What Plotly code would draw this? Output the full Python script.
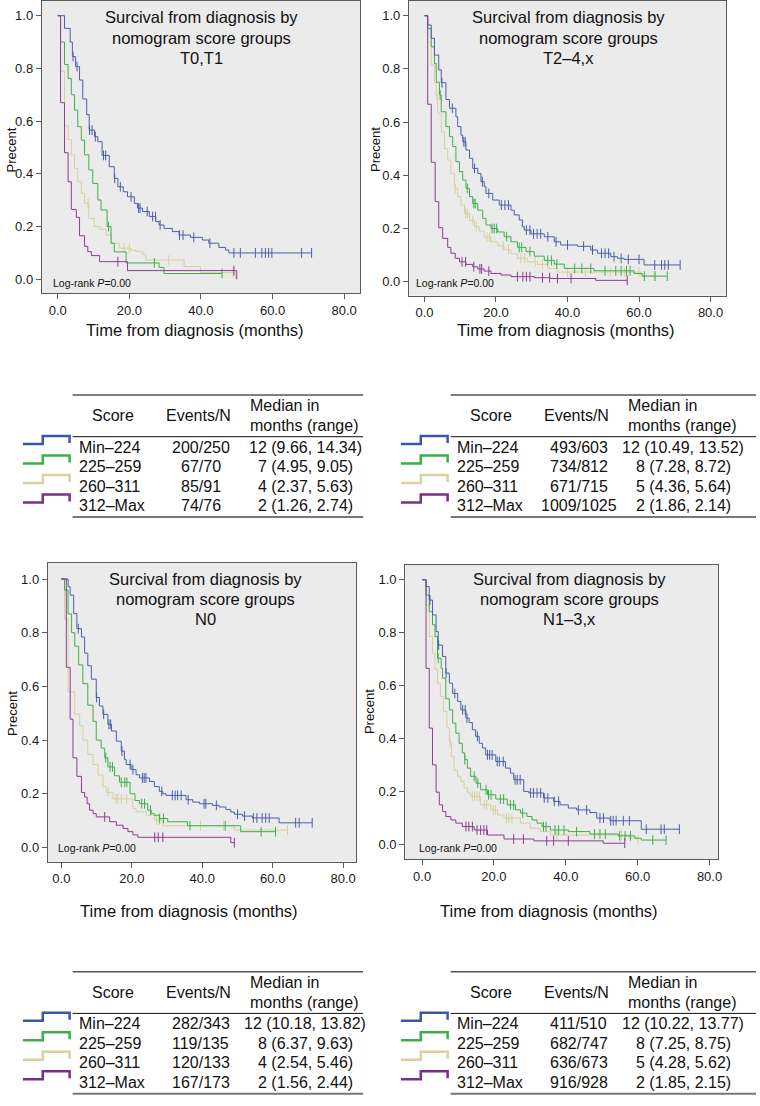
import plotly.graph_objects as go
from bisect import bisect_right

W, H = 760, 1106
FONT = "Liberation Sans, Arial, Helvetica, sans-serif"

# ---------------- data ----------------
SCORES = ["Min\u2013224", "225\u2013259", "260\u2013311", "312\u2013Max"]
GROUP_KEYS = ["B", "G", "Y", "P"]
LINE_COLORS = {"B": "#4a5fab", "G": "#3fae4a", "Y": "#d6d09c", "P": "#8a3f8e"}
ICON_COLORS = {"B": "#3d56a6", "G": "#3daf4a", "Y": "#d7d29e", "P": "#7a2f86"}

# --- T0,T1 ---
T01_B_T = [1.9, 3.5, 4.1, 5.0, 6.1, 7.0, 8.1, 8.8, 10.3, 11.2, 12.4, 14.4, 15.8, 16.8, 18.3, 19.5, 21.4, 22.3,
           23.7, 25.6, 27.4, 28.3, 29.7, 32.0, 33.9, 37.1, 40.4, 42.2, 45.0, 46.9, 47.8]
T01_B_S = [0.952, 0.90, 0.845, 0.807, 0.756, 0.684, 0.625, 0.566, 0.541, 0.522, 0.47, 0.427, 0.383, 0.351, 0.332,
           0.313, 0.288, 0.27, 0.257, 0.238, 0.219, 0.206, 0.193, 0.181, 0.168, 0.159, 0.149, 0.137, 0.121, 0.111, 0.10]
T01_B_C = [4.3, 5.4, 8.9, 9.6, 10.5, 12.8, 13.4, 15.9, 17.5, 20.5, 22.6, 23.0, 25.0, 26.5, 27.3, 28.6, 34.0, 35.0,
           38.0, 42.5, 49.2, 51.0, 55.2, 57.0, 58.0, 58.9, 59.8, 68.1, 70.9]
T01_G_T = [0.8, 1.9, 2.9, 3.8, 4.7, 5.6, 6.6, 7.5, 8.7, 9.8, 11.2, 12.1, 13.8, 14.9, 15.8, 19.1, 28.3, 29.7]
T01_G_S = [0.90, 0.815, 0.762, 0.70, 0.642, 0.579, 0.528, 0.472, 0.415, 0.364, 0.301, 0.263, 0.20, 0.137, 0.104,
           0.062, 0.045, 0.022]
T01_G_C = [14.2, 27.0, 45.9]
T01_Y_T = [0.8, 1.9, 2.9, 3.8, 4.7, 5.6, 6.6, 7.5, 8.7, 10.2, 11.7, 13.5, 14.9, 17.2, 20.5, 21.9, 23.7, 24.6, 35.3,
           39.9, 49.6]
T01_Y_S = [0.79, 0.582, 0.53, 0.472, 0.421, 0.37, 0.326, 0.288, 0.231, 0.20, 0.19, 0.168, 0.137, 0.118, 0.11, 0.105,
           0.095, 0.073, 0.048, 0.025, 0.0]
T01_Y_C = [8.5, 18.5, 20.0, 31.0, 49.0]
T01_P_T = [0.8, 1.9, 2.9, 3.8, 5.2, 6.1, 7.5, 8.4, 9.4, 11.7, 19.5, 50.0]
T01_P_S = [0.67, 0.48, 0.37, 0.265, 0.235, 0.165, 0.125, 0.105, 0.09, 0.067, 0.033, 0.0]
T01_P_C = [16.8, 49.2]

# --- T2-4,x ---
T24_B_T = [0.9, 1.9, 2.8, 4.0, 4.7, 6.0, 7.0, 8.8, 9.3, 10.2, 10.7, 11.6, 12.6, 13.5, 14.9, 15.8, 16.7, 17.2, 19.1,
           20.9, 24.2, 25.1, 26.5, 27.4, 27.9, 29.8, 33.5, 36.3, 38.1, 42.8, 46.5, 48.4, 52.1, 54.0, 55.8, 61.4]
T24_B_S = [0.965, 0.915, 0.852, 0.796, 0.748, 0.685, 0.652, 0.62, 0.583, 0.551, 0.526, 0.495, 0.464, 0.426, 0.407,
           0.376, 0.357, 0.332, 0.307, 0.288, 0.269, 0.251, 0.232, 0.207, 0.194, 0.18, 0.169, 0.15, 0.138, 0.133,
           0.119, 0.107, 0.094, 0.088, 0.084, 0.063]
T24_B_C = [4.9, 7.8, 11.0, 11.4, 14.0, 16.2, 18.0, 21.5, 22.5, 23.5, 28.5, 29.5, 30.5, 31.5, 32.5, 34.5, 36.8, 40.0,
           44.5, 47.0, 49.5, 50.5, 51.5, 53.0, 55.0, 57.0, 60.0, 64.4, 66.3, 67.2, 68.2, 71.5]
T24_G_T = [0.9, 1.9, 2.8, 3.3, 4.2, 4.7, 6.0, 7.0, 7.9, 8.8, 9.8, 10.7, 11.6, 12.6, 13.5, 14.9, 16.3, 17.2, 18.6,
           20.5, 22.3, 24.2, 26.0, 28.4, 30.7, 33.5, 36.3, 39.1, 47.4, 58.6, 60.9]
T24_G_S = [0.952, 0.883, 0.82, 0.75, 0.702, 0.639, 0.583, 0.545, 0.508, 0.451, 0.414, 0.382, 0.351, 0.32, 0.294,
           0.269, 0.238, 0.213, 0.2, 0.187, 0.169, 0.15, 0.129, 0.113, 0.096, 0.08, 0.066, 0.05, 0.041, 0.031, 0.021]
T24_G_C = [4.4, 12.0, 13.8, 14.2, 18.9, 19.5, 20.2, 23.0, 26.5, 27.2, 29.5, 34.5, 35.5, 37.0, 42.0, 44.0, 46.5,
           50.5, 53.5, 55.0, 56.5, 57.5, 61.5, 64.5, 67.9]
T24_Y_T = [0.9, 1.9, 2.8, 3.3, 3.7, 4.7, 5.6, 6.5, 7.4, 8.4, 9.3, 10.2, 11.2, 12.6, 14.0, 15.3, 16.7, 18.6, 20.5,
           22.3, 24.2, 26.0, 28.8, 31.6, 34.4, 37.2, 60.5]
T24_Y_S = [0.902, 0.815, 0.75, 0.70, 0.633, 0.564, 0.50, 0.457, 0.407, 0.351, 0.32, 0.288, 0.257, 0.23, 0.207, 0.19,
           0.167, 0.15, 0.135, 0.12, 0.105, 0.088, 0.075, 0.065, 0.05, 0.036, 0.022]
T24_Y_C = [3.5, 8.6, 11.5, 12.0, 13.5, 14.5, 17.5, 18.2, 22.0, 23.5, 27.0, 28.0, 31.0, 33.0, 40.0, 45.0, 52.0, 56.0,
           60.0, 64.2]
T24_P_T = [0.9, 1.9, 3.0, 4.0, 5.1, 6.5, 7.4, 8.6, 9.8, 11.6, 13.5, 14.9, 16.7, 18.6, 21.4, 24.2, 30.7, 35.3, 47.9]
T24_P_S = [0.667, 0.449, 0.301, 0.203, 0.163, 0.129, 0.107, 0.088, 0.075, 0.065, 0.056, 0.048, 0.04, 0.031, 0.025,
           0.019, 0.015, 0.012, 0.005]
T24_P_C = [10.5, 11.5, 13.8, 15.5, 16.0, 18.0, 26.0, 27.5, 28.5, 29.5, 33.0, 35.0, 37.2, 41.0, 56.7]

# --- N0 ---
N0_B_T = [1.9, 2.5, 3.5, 4.4, 5.7, 6.6, 7.5, 8.5, 9.9, 10.8, 11.8, 13.2, 14.2, 15.6, 17.0, 17.9, 18.4, 19.8, 21.2,
          22.2, 25.0, 26.4, 27.8, 28.8, 29.7, 35.4, 37.3, 39.2, 42.9, 44.8, 46.7, 48.1, 49.1, 51.4, 54.2, 61.8]
N0_B_S = [0.971, 0.94, 0.871, 0.815, 0.784, 0.724, 0.677, 0.627, 0.559, 0.527, 0.496, 0.459, 0.434, 0.396, 0.359,
          0.328, 0.309, 0.29, 0.271, 0.259, 0.246, 0.227, 0.209, 0.2, 0.194, 0.178, 0.169, 0.163, 0.157, 0.151, 0.141,
          0.132, 0.124, 0.117, 0.11, 0.092]
N0_B_C = [4.8, 10.0, 12.0, 13.5, 14.0, 17.2, 19.5, 20.3, 23.0, 23.5, 24.0, 28.5, 31.5, 32.3, 33.0, 34.0, 36.0, 40.5,
          41.0, 44.0, 50.0, 52.0, 54.5, 55.5, 57.0, 58.0, 59.0, 66.5, 67.5, 71.2]
N0_G_T = [0.9, 1.9, 2.9, 3.8, 4.9, 6.1, 7.5, 9.0, 9.9, 11.3, 12.3, 13.2, 15.1, 16.5, 19.5, 20.9, 22.2, 24.5, 25.5,
          26.4, 27.8, 30.2, 35.8, 50.9]
N0_G_S = [0.959, 0.87, 0.80, 0.75, 0.68, 0.61, 0.53, 0.47, 0.40, 0.37, 0.334, 0.30, 0.267, 0.243, 0.20, 0.175, 0.163,
          0.139, 0.126, 0.12, 0.108, 0.096, 0.081, 0.059]
N0_G_C = [12.6, 13.8, 14.5, 17.0, 18.0, 18.6, 22.8, 23.6, 25.3, 27.9, 29.0, 36.5, 46.5, 56.7, 60.8]
N0_Y_T = [0.9, 1.9, 3.8, 5.2, 6.1, 7.5, 9.0, 10.4, 11.8, 12.7, 14.6, 20.3, 21.2, 24.1, 26.4, 28.8, 49.1]
N0_Y_S = [0.852, 0.58, 0.496, 0.4525, 0.40, 0.346, 0.309, 0.27, 0.2275, 0.206, 0.181, 0.145, 0.133, 0.12, 0.102,
          0.081, 0.065]
N0_Y_C = [13.3, 15.5, 16.0, 17.0, 18.5, 27.0, 27.8, 39.5, 46.0, 64.2]
N0_P_T = [1.4, 2.5, 3.3, 4.4, 5.7, 6.6, 7.3, 8.0, 9.0, 9.9, 13.7, 15.6, 17.5, 18.9, 20.3, 21.7, 48.1]
N0_P_S = [0.671, 0.478, 0.334, 0.265, 0.205, 0.188, 0.163, 0.139, 0.126, 0.114, 0.096, 0.083, 0.071, 0.059, 0.047,
          0.038, 0.018]
N0_P_C = [12.3, 26.5, 27.5, 28.8, 49.1]

# --- N1-3,x ---
N13_B_T = [1.1, 2.0, 2.9, 3.9, 4.5, 5.7, 6.6, 7.6, 8.5, 9.9, 10.8, 12.2, 13.1, 14.0, 14.9, 15.9, 16.8, 17.7, 20.5,
           23.2, 24.6, 25.5, 28.3, 29.7, 33.8, 36.6, 38.4, 40.7, 43.0, 46.7, 48.6, 52.3, 61.0]
N13_B_S = [0.974, 0.923, 0.867, 0.804, 0.753, 0.71, 0.647, 0.609, 0.57, 0.54, 0.508, 0.477, 0.46, 0.433, 0.408,
           0.382, 0.364, 0.338, 0.313, 0.288, 0.269, 0.244, 0.2, 0.194, 0.175, 0.162, 0.149, 0.137, 0.13, 0.12, 0.099,
           0.089, 0.057]
N13_B_C = [2.2, 4.6, 6.7, 9.1, 11.3, 12.0, 12.5, 15.4, 18.2, 18.8, 19.5, 20.9, 21.5, 22.6, 25.9, 26.5, 27.3, 30.2,
           31.0, 32.0, 33.0, 34.0, 35.0, 36.8, 38.0, 43.5, 45.8, 49.5, 50.5, 52.5, 53.2, 54.0, 56.0, 57.7, 62.4, 66.5,
           67.4, 71.6]
N13_G_T = [1.1, 2.0, 2.9, 3.6, 4.3, 5.3, 5.7, 6.6, 7.6, 8.5, 9.4, 10.3, 11.2, 11.9, 12.6, 13.5, 15.0, 16.3, 18.2,
           20.5, 23.7, 26.0, 27.4, 29.2, 30.6, 32.0, 33.4, 35.7, 40.7, 46.7, 54.6, 59.2, 61.0]
N13_G_S = [0.942, 0.879, 0.83, 0.785, 0.703, 0.665, 0.628, 0.55, 0.508, 0.458, 0.42, 0.382, 0.345, 0.32, 0.288,
           0.257, 0.231, 0.206, 0.187, 0.171, 0.149, 0.13, 0.118, 0.105, 0.092, 0.08, 0.067, 0.054, 0.048, 0.039,
           0.032, 0.023, 0.016]
N13_G_C = [4.5, 11.9, 14.5, 15.5, 17.8, 18.5, 19.2, 21.8, 22.7, 24.6, 25.5, 28.0, 33.8, 34.5, 37.0, 38.0, 39.5,
           43.0, 48.0, 49.5, 51.0, 55.0, 56.5, 58.0, 64.2, 67.9]
N13_Y_T = [1.1, 2.0, 2.9, 3.6, 4.3, 5.1, 6.0, 6.9, 7.6, 8.2, 8.9, 9.9, 10.8, 11.7, 12.6, 13.5, 16.3, 19.1, 21.0,
           22.8, 27.4, 30.1, 32.9, 35.7, 57.8, 60.1]
N13_Y_S = [0.904, 0.785, 0.72, 0.662, 0.609, 0.558, 0.502, 0.44, 0.385, 0.332, 0.28, 0.257, 0.238, 0.213, 0.194,
           0.181, 0.149, 0.13, 0.111, 0.099, 0.08, 0.061, 0.048, 0.035, 0.023, 0.016]
N13_Y_C = [7.8, 14.0, 14.6, 15.3, 16.0, 17.3, 18.0, 19.8, 20.4, 23.5, 24.2, 25.0, 37.5, 48.0, 55.5, 60.1]
N13_P_T = [1.1, 2.0, 2.9, 3.9, 4.8, 5.7, 6.6, 8.0, 9.4, 11.2, 14.5, 18.2, 22.8, 31.1, 50.4]
N13_P_S = [0.665, 0.439, 0.30, 0.197, 0.149, 0.124, 0.105, 0.092, 0.08, 0.067, 0.054, 0.035, 0.02, 0.013, 0.004]
N13_P_C = [12.2, 13.0, 14.0, 15.3, 16.3, 17.2, 18.0, 25.5, 28.2, 34.7, 36.6, 40.7, 56.4]

# table columns
T01_EVENTS = ["200/250", "67/70", "85/91", "74/76"]
T01_MEDIAN = ["12 (9.66, 14.34)", "7 (4.95, 9.05)", "4 (2.37, 5.63)", "2 (1.26, 2.74)"]
T24_EVENTS = ["493/603", "734/812", "671/715", "1009/1025"]
T24_MEDIAN = ["12 (10.49, 13.52)", "8 (7.28, 8.72)", "5 (4.36, 5.64)", "2 (1.86, 2.14)"]
N0_EVENTS = ["282/343", "119/135", "120/133", "167/173"]
N0_MEDIAN = ["12 (10.18, 13.82)", "8 (6.37, 9.63)", "4 (2.54, 5.46)", "2 (1.56, 2.44)"]
N13_EVENTS = ["411/510", "682/747", "636/673", "916/928"]
N13_MEDIAN = ["12 (10.22, 13.77)", "8 (7.25, 8.75)", "5 (4.28, 5.62)", "2 (1.85, 2.15)"]

X_TICKS = [0, 20, 40, 60, 80]
Y_TICKS = [0.0, 0.2, 0.4, 0.6, 0.8, 1.0]

CURVES = {
    "T01": {"B": (T01_B_T, T01_B_S, T01_B_C), "G": (T01_G_T, T01_G_S, T01_G_C),
            "Y": (T01_Y_T, T01_Y_S, T01_Y_C), "P": (T01_P_T, T01_P_S, T01_P_C)},
    "T24": {"B": (T24_B_T, T24_B_S, T24_B_C), "G": (T24_G_T, T24_G_S, T24_G_C),
            "Y": (T24_Y_T, T24_Y_S, T24_Y_C), "P": (T24_P_T, T24_P_S, T24_P_C)},
    "N0": {"B": (N0_B_T, N0_B_S, N0_B_C), "G": (N0_G_T, N0_G_S, N0_G_C),
           "Y": (N0_Y_T, N0_Y_S, N0_Y_C), "P": (N0_P_T, N0_P_S, N0_P_C)},
    "N13": {"B": (N13_B_T, N13_B_S, N13_B_C), "G": (N13_G_T, N13_G_S, N13_G_C),
            "Y": (N13_Y_T, N13_Y_S, N13_Y_C), "P": (N13_P_T, N13_P_S, N13_P_C)},
}
TABLES = {"T01": (T01_EVENTS, T01_MEDIAN), "T24": (T24_EVENTS, T24_MEDIAN),
          "N0": (N0_EVENTS, N0_MEDIAN), "N13": (N13_EVENTS, N13_MEDIAN)}

# ---------------- layout geometry (pixels) ----------------
PANELS = [
    dict(key="T01", label="T0,T1", box=(42, 1, 362, 293), x0=58, x80=346, y0=279.3, y1=15.7,
         title_x=203, title_y=(17, 37.5, 58), lr=(51, 283), ytitle=(11.5, 150), xtitle=(196, 330),
         table=(73, 365, 395)),
    dict(key="T24", label="T2\u20134,x", box=(411, 1, 730, 295.7), x0=426.7, x80=714.3, y0=281.7, y1=15.7,
         title_x=571.7, title_y=(17, 37.5, 58), lr=(416, 282.7), ytitle=(377, 150), xtitle=(569, 330),
         table=(453, 760, 395)),
    dict(key="N0", label="N0", box=(48, 563, 358, 861.7), x0=61.7, x80=345, y0=847.5, y1=579,
         title_x=206.7, title_y=(579, 599, 619), lr=(56, 848.3), ytitle=(12, 713), xtitle=(190, 911),
         table=(73, 365, 971.7)),
    dict(key="N13", label="N1\u20133,x", box=(407.3, 565, 722.3, 859), x0=424.3, x80=713.3, y0=844.3, y1=579.7,
         title_x=572.3, title_y=(579, 599, 619), lr=(419, 848.3), ytitle=(371, 712), xtitle=(552, 911),
         table=(453, 760, 971.7)),
]


def px(x):
    return x / W


def py(y):
    return 1 - y / H


def step_xy(T, S, C):
    xs = [0.0] + list(T)
    ys = [1.0] + list(S)
    end = max(C) if C else T[-1]
    if end > T[-1]:
        xs.append(end)
        ys.append(S[-1])
    return xs, ys


def surv_at(T, S, t):
    i = bisect_right(T, t)
    return 1.0 if i == 0 else S[i - 1]


fig = go.Figure()
annotations = []
shapes = []
layout_axes = {}

for idx, p in enumerate(PANELS):
    n = "" if idx == 0 else str(idx + 1)
    xa, ya = "x" + n, "y" + n
    l, t, r, b = p["box"]
    kx = (p["x80"] - p["x0"]) / 80.0
    ky = p["y0"] - p["y1"]
    xr = [(l - p["x0"]) / kx, (r - p["x0"]) / kx]
    yr = [(p["y0"] - b) / ky, (p["y0"] - t) / ky]
    common = dict(showline=True, mirror=True, linecolor="#5a5a5a", linewidth=1, showgrid=False, zeroline=False,
                  ticks="outside", ticklen=5, tickwidth=1, tickcolor="#5a5a5a",
                  tickfont=dict(family=FONT, size=13, color="#1a1a1a"), tickformat=".1f", fixedrange=True)
    layout_axes["xaxis" + n] = dict(domain=[px(l), px(r)], range=xr, anchor=ya, tickmode="array",
                                    tickvals=X_TICKS, **common)
    layout_axes["yaxis" + n] = dict(domain=[py(b), py(t)], range=yr, anchor=xa, tickmode="array",
                                    tickvals=Y_TICKS, **common)

    # curves
    for g in ["Y", "G", "B", "P"]:
        T, S, C = CURVES[p["key"]][g]
        xs, ys = step_xy(T, S, C)
        col = LINE_COLORS[g]
        fig.add_trace(go.Scatter(x=xs, y=ys, mode="lines", line=dict(color=col, width=1, shape="hv"),
                                 xaxis=xa, yaxis=ya, showlegend=False, hoverinfo="skip"))
        fig.add_trace(go.Scatter(x=C, y=[surv_at(T, S, c) for c in C], mode="markers",
                                 marker=dict(symbol="line-ns-open", size=7, color=col,
                                             line=dict(color=col, width=1)),
                                 xaxis=xa, yaxis=ya, showlegend=False, hoverinfo="skip"))

    # title lines
    for line_txt, yy in zip(["Surcival from diagnosis by", "nomogram score groups", p["label"]], p["title_y"]):
        annotations.append(dict(text=line_txt, x=px(p["title_x"]), y=py(yy), xref="paper", yref="paper",
                                xanchor="center", yanchor="middle", showarrow=False,
                                font=dict(family=FONT, size=16.5, color="#111")))
    annotations.append(dict(text="Log-rank <i>P</i>=0.00", x=px(p["lr"][0]), y=py(p["lr"][1]), xref="paper",
                            yref="paper", xanchor="left", yanchor="middle", showarrow=False,
                            font=dict(family=FONT, size=10.5, color="#111")))
    annotations.append(dict(text="Precent", x=px(p["ytitle"][0]), y=py(p["ytitle"][1]), xref="paper",
                            yref="paper", xanchor="center", yanchor="middle", showarrow=False, textangle=-90,
                            font=dict(family=FONT, size=13, color="#111")))
    annotations.append(dict(text="Time from diagnosis (months)", x=px(p["xtitle"][0]), y=py(p["xtitle"][1]),
                            xref="paper", yref="paper", xanchor="center", yanchor="middle", showarrow=False,
                            font=dict(family=FONT, size=16.5, color="#111")))

    # table
    x0, x1, yt = p["table"]
    events, medians = TABLES[p["key"]]
    tf = dict(family=FONT, size=16, color="#111")
    shapes.append(dict(type="line", xref="paper", yref="paper", x0=px(x0), x1=px(x1), y0=py(yt), y1=py(yt),
                       line=dict(color="#555", width=1.5)))
    shapes.append(dict(type="line", xref="paper", yref="paper", x0=px(x0), x1=px(x1), y0=py(yt + 41.7),
                       y1=py(yt + 41.7), line=dict(color="#111", width=1)))
    shapes.append(dict(type="line", xref="paper", yref="paper", x0=px(x0), x1=px(x1), y0=py(yt + 122),
                       y1=py(yt + 122), line=dict(color="#777", width=2)))
    annotations.append(dict(text="Score", x=px(x0 + 41), y=py(yt + 21), xref="paper", yref="paper",
                            xanchor="center", yanchor="middle", showarrow=False, font=tf))
    annotations.append(dict(text="Events/N", x=px(x0 + 127), y=py(yt + 21), xref="paper", yref="paper",
                            xanchor="center", yanchor="middle", showarrow=False, font=tf))
    annotations.append(dict(text="Median in", x=px(x0 + 176), y=py(yt + 11), xref="paper", yref="paper",
                            xanchor="left", yanchor="middle", showarrow=False, font=tf))
    annotations.append(dict(text="months (range)", x=px(x0 + 176), y=py(yt + 30.5), xref="paper", yref="paper",
                            xanchor="left", yanchor="middle", showarrow=False, font=tf))
    for i, g in enumerate(GROUP_KEYS):
        ry = yt + 52 + 19.5 * i
        annotations.append(dict(text=SCORES[i], x=px(x0 + 4.5), y=py(ry), xref="paper", yref="paper",
                                xanchor="left", yanchor="middle", showarrow=False, font=tf))
        annotations.append(dict(text=events[i], x=px(x0 + 129), y=py(ry), xref="paper", yref="paper",
                                xanchor="center", yanchor="middle", showarrow=False, font=tf))
        annotations.append(dict(text=medians[i], x=px(x0 + 234), y=py(ry), xref="paper", yref="paper",
                                xanchor="center", yanchor="middle", showarrow=False, font=tf))
        # legend step icon
        lo, hi = ry - 3, ry - 11
        path = "M {a},{b} L {c},{b} L {c},{d} L {e},{d} L {e},{f}".format(
            a=px(x0 - 50), b=py(lo), c=px(x0 - 30), d=py(hi), e=px(x0 - 3), f=py(ry - 4))
        shapes.append(dict(type="path", xref="paper", yref="paper", path=path,
                           line=dict(color=ICON_COLORS[g], width=2.5)))

fig.update_layout(width=W, height=H, margin=dict(l=0, r=0, t=0, b=0), paper_bgcolor="white",
                  plot_bgcolor="#ebebeb", showlegend=False, annotations=annotations, shapes=shapes,
                  **layout_axes)

fig.write_html("out.html", config={"displayModeBar": False, "staticPlot": True},
               post_script="document.body.style.margin='0';document.body.style.overflow='hidden';")
